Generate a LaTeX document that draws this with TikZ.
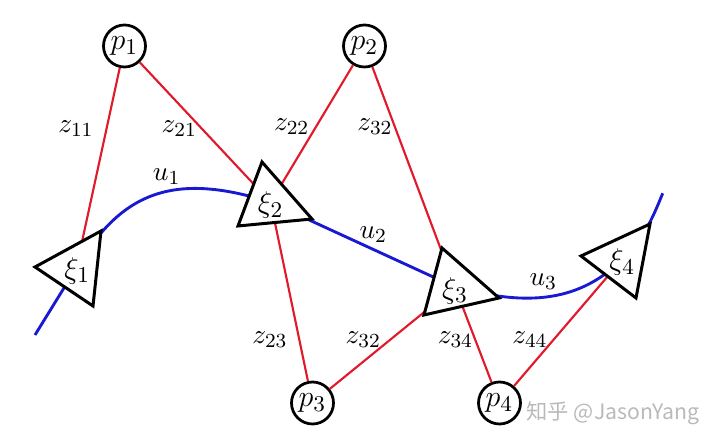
\documentclass[tikz,border=0pt]{standalone}
\usepackage{fontspec}
\usetikzlibrary{calc}
\newfontfamily\cjk{Noto Sans CJK SC}
\definecolor{myred}{RGB}{225,25,42}
\definecolor{myblue}{RGB}{25,25,210}
\definecolor{wmgray}{RGB}{185,185,185}
\begin{document}
\begin{tikzpicture}[x=0.4pt,y=0.4pt,
  pnode/.style={draw,circle,line width=1.1pt,inner sep=0pt,minimum size=16.8pt,font=\fontsize{12.5}{14}\selectfont},
  redl/.style={draw=myred,line width=0.85pt},
  bluel/.style={draw=myblue,line width=1.15pt},
  tri/.style={draw=black,fill=white,line width=1.2pt,line join=miter},
  xilab/.style={inner sep=0pt,font=\fontsize{12.5}{14}\selectfont},
  lbl/.style={inner sep=0pt,font=\fontsize{11}{13}\selectfont}]
\useasboundingbox (0,0) rectangle (720,445);
% p nodes
\node[pnode] (p1) at (124.5,399) {$p_1$};
\node[pnode] (p2) at (364.5,399) {$p_2$};
\node[pnode] (p3) at (312.5,42) {$p_3$};
\node[pnode] (p4) at (499.5,42) {$p_4$};
% triangle centres
\coordinate (t1) at (76.3,177);
\coordinate (t2) at (270.7,242.7);
\coordinate (t3) at (455,158);
\coordinate (t4) at (622.3,185.7);
\coordinate (s0) at (35,110);
\coordinate (s5) at (662.7,251.7);
% blue path
\draw[bluel] (s0) -- (t1) .. controls (120,250) and (170,275) .. (t2) -- (t3)
  to[out=-15,in=225] (t4) to[out=45,in=248] (s5);
% red connectors
\draw[redl] (p1) -- (t1);
\draw[redl] (p1) -- (t2);
\draw[redl] (p2) -- (t2);
\draw[redl] (p2) -- (t3);
\draw[redl] (p3) -- (t2);
\draw[redl] (p3) -- (t3);
\draw[redl] (p4) -- (t3);
\draw[redl] (p4) -- (t4);
% triangles
\draw[tri] (35,178) -- (101,214) -- (93,139) -- cycle;
\draw[tri] (262,283) -- (312,226) -- (238,219) -- cycle;
\draw[tri] (442,197) -- (499,147) -- (424,130) -- cycle;
\draw[tri] (581,189) -- (650,221) -- (636,147) -- cycle;
\node[xilab] (xi1) at ($(t1)+(1,-3)$) {$\xi_1$};
\node[xilab] (xi2) at ($(t2)+(0,-3)$) {$\xi_2$};
\node[xilab] (xi3) at ($(t3)+(0,-4)$) {$\xi_3$};
\node[xilab] (xi4) at ($(t4)+(0,-3)$) {$\xi_4$};
% labels
\node[lbl] (l11) at (76,316.7) {$z_{11}$};
\node[lbl] (l21) at (179.3,316.7) {$z_{21}$};
\node[lbl] (l22) at (291.7,318.3) {$z_{22}$};
\node[lbl] (l32a) at (375,318.3) {$z_{32}$};
\node[lbl] (lu1) at (166.7,268.3) {$u_1$};
\node[lbl] (lu2) at (373.3,210) {$u_2$};
\node[lbl] (lu3) at (543.3,163.3) {$u_3$};
\node[lbl] (l23) at (270,105) {$z_{23}$};
\node[lbl] (l32b) at (363.3,105) {$z_{32}$};
\node[lbl] (l34) at (455.5,105.7) {$z_{34}$};
\node[lbl] (l44) at (530,105.7) {$z_{44}$};
% watermark
\node[inner sep=0pt,text=wmgray,font=\cjk\fontsize{8.5}{10}\selectfont] (wm) at (613,32) {知乎 @JasonYang};
\end{tikzpicture}
\end{document}
